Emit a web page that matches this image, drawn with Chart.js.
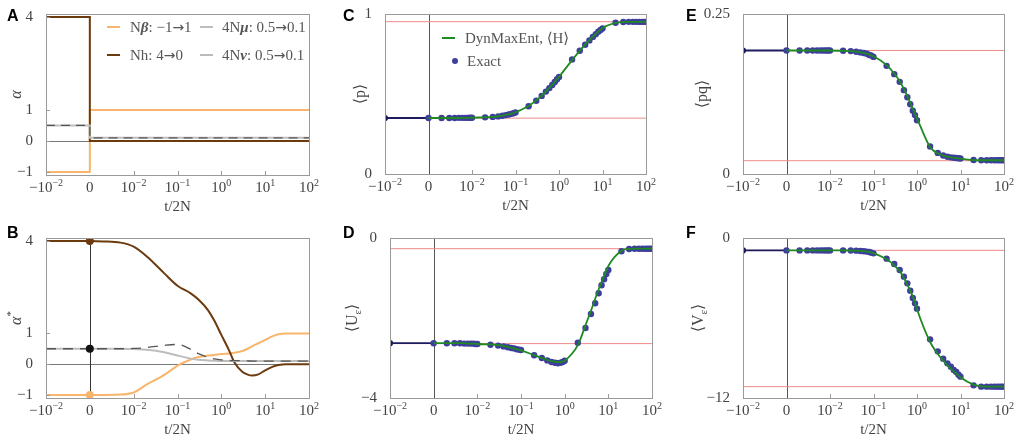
<!DOCTYPE html>
<html>
<head>
<meta charset="utf-8">
<script src="https://cdn.jsdelivr.net/npm/chart.js@4.4.0/dist/chart.umd.min.js"></script>
<style>
  body { margin: 0; background: #fff; width: 1016px; height: 444px; overflow: hidden; position: relative; }
  canvas { position: absolute; }
</style>
</head>
<body>
<canvas id="A" width="330" height="215" style="left:0;top:0"></canvas>
<canvas id="B" width="330" height="229" style="left:0;top:215px"></canvas>
<canvas id="C" width="340" height="215" style="left:330px;top:0"></canvas>
<canvas id="D" width="340" height="229" style="left:330px;top:215px"></canvas>
<canvas id="E" width="346" height="215" style="left:670px;top:0"></canvas>
<canvas id="F" width="346" height="229" style="left:670px;top:215px"></canvas>
<script>
// ---- datos ----
// tiempos t/2N (antes del cambio: -10^-2..0)
var tPre = [-0.01, 0];
var tStep = [-0.01, 0, 0, 100];
var tRef = [-0.01, 100];
var tGrid = [0.001, 0.002, 0.003, 0.004, 0.005, 0.006, 0.007, 0.008, 0.009,
  0.01, 0.02, 0.03, 0.04, 0.05, 0.06, 0.07, 0.08, 0.09,
  0.1, 0.2, 0.3, 0.4, 0.5, 0.6, 0.7, 0.8, 0.9,
  1, 2, 3, 4, 5, 6, 7, 8, 9,
  10, 20, 30, 40, 50, 60, 70, 80, 90,
  100];
var tB = [-0.01, 0, 0.002, 0.005, 0.01, 0.02, 0.05, 0.1, 0.2, 0.3, 0.5, 0.7, 1, 1.5, 2, 3, 4, 5, 7, 10, 15, 20, 30, 50, 100];

// panel A: parametros (escalon)
var aBeta = [-1, -1, 1, 1];
var aH = [4, 4, 0, 0];
var aMu = [0.5, 0.5, 0.1, 0.1];
var aNu = [0.5, 0.5, 0.1, 0.1];

// panel B: alpha*
var bBeta = [-1, -1, -1, -0.99, -0.92, -0.66, -0.35, -0.05, 0.15, 0.23, 0.28, 0.30, 0.33, 0.35, 0.37, 0.43, 0.50, 0.58, 0.68, 0.79, 0.91, 0.97, 1, 1, 1];
var bH = [4, 4, 3.99, 3.95, 3.82, 3.5, 2.95, 2.55, 2.3, 2.1, 1.75, 1.4, 0.95, 0.45, 0.05, -0.25, -0.34, -0.37, -0.33, -0.2, -0.08, -0.03, 0, 0, 0];
var bMu = [0.5, 0.5, 0.5, 0.5, 0.49, 0.47, 0.39, 0.28, 0.18, 0.14, 0.12, 0.11, 0.105, 0.1, 0.1, 0.1, 0.1, 0.1, 0.1, 0.1, 0.1, 0.1, 0.1, 0.1, 0.1];
var bNu = [0.5, 0.5, 0.5, 0.5, 0.51, 0.54, 0.61, 0.64, 0.48, 0.34, 0.22, 0.17, 0.14, 0.12, 0.115, 0.11, 0.105, 0.1, 0.1, 0.1, 0.1, 0.1, 0.1, 0.1, 0.1];
var bStart = [4, 0.5, -1];

// panel C: <p>
var cExact = [0.350, 0.350, 0.350, 0.350, 0.351, 0.351, 0.351, 0.351, 0.352,
  0.352, 0.354, 0.357, 0.360, 0.364, 0.368, 0.372, 0.376, 0.380,
  0.384, 0.423, 0.458, 0.488, 0.515, 0.537, 0.557, 0.575, 0.592,
  0.607, 0.716, 0.770, 0.808, 0.835, 0.857, 0.874, 0.889, 0.900,
  0.910, 0.945, 0.950, 0.951, 0.951, 0.951, 0.951, 0.951, 0.951,
  0.951];
var cDyn = [0.350, 0.350, 0.350, 0.350, 0.350, 0.351, 0.351, 0.351, 0.351,
  0.352, 0.354, 0.357, 0.361, 0.365, 0.369, 0.373, 0.377, 0.381,
  0.386, 0.425, 0.460, 0.490, 0.516, 0.538, 0.558, 0.576, 0.592,
  0.607, 0.712, 0.770, 0.810, 0.836, 0.858, 0.875, 0.890, 0.901,
  0.912, 0.944, 0.950, 0.951, 0.951, 0.951, 0.951, 0.951, 0.951,
  0.951];
var cPre = [0.350, 0.350];
var cRef = [0.349, 0.952];

// panel D: <U_eps>
var dExact = [-2.63, -2.63, -2.63, -2.63, -2.64, -2.64, -2.64, -2.64, -2.65,
  -2.65, -2.67, -2.69, -2.71, -2.73, -2.75, -2.76, -2.78, -2.79,
  -2.80, -2.93, -3.00, -3.06, -3.10, -3.12, -3.13, -3.12, -3.10,
  -3.07, -2.62, -2.25, -1.90, -1.63, -1.38, -1.18, -1.03, -0.90,
  -0.80, -0.33, -0.275, -0.27, -0.27, -0.27, -0.27, -0.27, -0.27,
  -0.27];
var dDyn = [-2.63, -2.63, -2.63, -2.63, -2.63, -2.64, -2.64, -2.64, -2.64,
  -2.65, -2.66, -2.68, -2.70, -2.72, -2.74, -2.76, -2.78, -2.80,
  -2.81, -2.93, -3.00, -3.05, -3.08, -3.09, -3.10, -3.10, -3.09,
  -3.07, -2.68, -2.18, -1.82, -1.52, -1.28, -1.10, -0.95, -0.82,
  -0.70, -0.32, -0.27, -0.265, -0.265, -0.265, -0.265, -0.265, -0.265,
  -0.265];
var dPre = [-2.63, -2.63];
var dRef = [-0.267, -2.64];

// panel E: <pq>
var eExact = [0.193, 0.193, 0.193, 0.193, 0.193, 0.193, 0.193, 0.193, 0.193,
  0.193, 0.1925, 0.192, 0.191, 0.190, 0.189, 0.188, 0.186, 0.185,
  0.183, 0.169, 0.156, 0.144, 0.131, 0.120, 0.109, 0.099, 0.092,
  0.084, 0.043, 0.033, 0.029, 0.027, 0.026, 0.0255, 0.025, 0.0245,
  0.0242, 0.0218, 0.0215, 0.0215, 0.0215, 0.0215, 0.0215, 0.0215, 0.0215,
  0.0215];
var eDyn = [0.193, 0.193, 0.193, 0.193, 0.193, 0.193, 0.193, 0.193, 0.193,
  0.193, 0.1925, 0.192, 0.191, 0.190, 0.189, 0.188, 0.187, 0.185,
  0.184, 0.170, 0.157, 0.145, 0.133, 0.122, 0.111, 0.102, 0.094,
  0.087, 0.042, 0.032, 0.029, 0.027, 0.026, 0.0255, 0.025, 0.0245,
  0.024, 0.0218, 0.0215, 0.0215, 0.0215, 0.0215, 0.0215, 0.0215, 0.0215,
  0.0215];
var ePre = [0.193, 0.193];
var eRef = [0.193, 0.0208];

// panel F: <V_eps>
var fExact = [-0.93, -0.93, -0.93, -0.93, -0.93, -0.93, -0.93, -0.93, -0.93,
  -0.93, -0.93, -0.94, -0.95, -0.97, -0.99, -1.02, -1.05, -1.10,
  -1.15, -1.55, -1.95, -2.40, -2.90, -3.40, -3.95, -4.50, -4.90,
  -5.30, -7.60, -8.50, -9.05, -9.40, -9.65, -9.90, -10.05, -10.25,
  -10.40, -11.05, -11.15, -11.15, -11.15, -11.15, -11.15, -11.15, -11.15,
  -11.15];
var fDyn = [-0.93, -0.93, -0.93, -0.93, -0.93, -0.93, -0.93, -0.93, -0.93,
  -0.93, -0.93, -0.94, -0.95, -0.97, -0.99, -1.02, -1.05, -1.09,
  -1.13, -1.60, -2.05, -2.50, -3.00, -3.50, -3.95, -4.40, -4.85,
  -5.35, -7.80, -8.70, -9.20, -9.55, -9.80, -10.00, -10.15, -10.30,
  -10.45, -11.00, -11.12, -11.15, -11.15, -11.15, -11.15, -11.15, -11.15,
  -11.15];
var fPre = [-0.93, -0.93];
var fRef = [-0.925, -11.15];

// etiquetas del eje x (base, exponente) en las posiciones -1..5
var xTickLabels = [['\u221210', '\u22122'], ['0', ''], ['10', '\u22122'], ['10', '\u22121'], ['10', '0'], ['10', '1'], ['10', '2']];
var xTitle = 't/2N';

// ---- estilo ----
var SERIF = "'Liberation Serif', 'DejaVu Serif', serif";
var SANS = "'Liberation Sans', Arial, sans-serif";
var ORANGE = '#f7b66c', BROWN = '#6d3a0e', LGRAY = '#bdbdbd', DGRAY = '#555555';
var GREEN = '#1f8a22', DOT = '#3e3e9c', NAVY = '#1b1b5e', RED = '#f08a8a';
var TXT = '#444444';

// eje x: antes del cambio lineal (-1..0), despues log10 desde 10^-3 (marcado "0")
function toU(t) {
  if (t <= 0) return t * 100;
  return Math.log10(t) + 3;
}
function pts(ts, vs) {
  var out = [];
  for (var i = 0; i < ts.length; i++) out.push({x: toU(ts[i]), y: vs[i]});
  return out;
}

function fontFor(kind, size) {
  if (kind === 'sup' || kind === 'sub') return Math.round(size * 0.68) + 'px ' + SERIF;
  if (kind === 'bi') return 'italic bold ' + size + 'px ' + SERIF;
  if (kind === 'i') return 'italic ' + size + 'px ' + SERIF;
  if (kind === 'arr') return Math.round(size * 0.95) + "px 'DejaVu Sans', sans-serif";
  return size + 'px ' + SERIF;
}
// dibuja texto con partes [texto, tipo]
function drawParts(ctx, parts, x, y, size, align) {
  var w = 0;
  parts.forEach(function(p) { ctx.font = fontFor(p[1], size); w += ctx.measureText(p[0]).width; });
  var cx = align === 'center' ? x - w / 2 : (align === 'right' ? x - w : x);
  ctx.textAlign = 'left';
  ctx.textBaseline = 'alphabetic';
  parts.forEach(function(p) {
    ctx.font = fontFor(p[1], size);
    var dy = p[1] === 'sup' ? -size * 0.42 : (p[1] === 'sub' ? size * 0.28 : 0);
    ctx.fillText(p[0], cx, y + dy);
    cx += ctx.measureText(p[0]).width;
  });
}

var decor = {
  id: 'decor',
  beforeDatasetsDraw: function(chart, args, o) {
    var ctx = chart.ctx, a = chart.chartArea, xs = chart.scales.x, ys = chart.scales.y;
    ctx.save();
    ctx.lineWidth = 1;
    if (o.zeroH) {
      var y0 = Math.round(ys.getPixelForValue(0)) + 0.5;
      ctx.strokeStyle = '#777';
      ctx.beginPath(); ctx.moveTo(a.left, y0); ctx.lineTo(a.right, y0); ctx.stroke();
    }
    if (o.zeroV) {
      var x0 = Math.round(xs.getPixelForValue(0)) + 0.5;
      ctx.strokeStyle = o.zeroV;
      ctx.beginPath(); ctx.moveTo(x0, a.top); ctx.lineTo(x0, a.bottom); ctx.stroke();
    }
    ctx.restore();
  },
  afterDraw: function(chart, args, o) {
    var ctx = chart.ctx, a = chart.chartArea, xs = chart.scales.x, ys = chart.scales.y;
    ctx.save();
    // marco
    ctx.strokeStyle = '#9a9a9a';
    ctx.lineWidth = 1;
    ctx.strokeRect(Math.round(a.left) + 0.5, Math.round(a.top) + 0.5, Math.round(a.right - a.left), Math.round(a.bottom - a.top));
    // marcas hacia dentro
    ctx.beginPath();
    for (var u = 1; u <= 4; u++) {
      var px = Math.round(xs.getPixelForValue(u)) + 0.5;
      ctx.moveTo(px, a.bottom); ctx.lineTo(px, a.bottom - 4);
    }
    ys.ticks.forEach(function(tk) {
      var py = Math.round(ys.getPixelForValue(tk.value)) + 0.5;
      ctx.moveTo(a.left, py); ctx.lineTo(a.left + 4, py);
    });
    ctx.stroke();
    // etiquetas eje x
    ctx.fillStyle = TXT;
    for (var i = 0; i < xTickLabels.length; i++) {
      var lab = xTickLabels[i];
      var parts = [[lab[0], '']];
      if (lab[1]) parts.push([lab[1], 'sup']);
      drawParts(ctx, parts, xs.getPixelForValue(i - 1), a.bottom + 17, 15, 'center');
    }
    drawParts(ctx, [[xTitle, '']], (a.left + a.right) / 2, a.bottom + 36, 15, 'center');
    // titulo eje y
    ctx.save();
    ctx.translate(o.yTitleX, (a.top + a.bottom) / 2);
    ctx.rotate(-Math.PI / 2);
    drawParts(ctx, o.yTitle, 0, 5, 16, 'center');
    ctx.restore();
    // letra del panel
    ctx.fillStyle = '#000';
    ctx.font = 'bold 16px ' + SANS;
    ctx.textAlign = 'left';
    ctx.textBaseline = 'alphabetic';
    ctx.fillText(o.letter, o.letterX, o.letterY);
    // leyenda
    (o.legend || []).forEach(function(it) {
      ctx.strokeStyle = it.color;
      ctx.fillStyle = it.color;
      if (it.type === 'dot') {
        ctx.beginPath(); ctx.arc(it.x + 6, it.y, 3, 0, Math.PI * 2); ctx.fill();
      } else {
        ctx.lineWidth = it.width;
        ctx.beginPath(); ctx.moveTo(it.x, it.y); ctx.lineTo(it.x + 13, it.y); ctx.stroke();
      }
      ctx.fillStyle = '#555';
      drawParts(ctx, it.parts, it.tx, it.y + 5, 15, 'left');
    });
    ctx.restore();
  }
};

function makeChart(id, cfg) {
  var el = document.getElementById(id);
  var w = el.width, h = el.height;
  return new Chart(el.getContext('2d'), {
    type: 'line',
    data: { datasets: cfg.datasets },
    options: {
      responsive: false,
      animation: false,
      layout: { padding: { left: 0, right: w - cfg.area[1], top: cfg.area[2], bottom: 0 } },
      plugins: { legend: { display: false }, tooltip: { enabled: false }, decor: cfg.decor },
      elements: { point: { radius: 0 } },
      scales: {
        x: {
          type: 'linear', min: -1, max: 5,
          ticks: { display: false }, grid: { display: false }, border: { display: false },
          afterFit: function(s) { s.height = h - cfg.area[3]; }
        },
        y: {
          type: 'linear', min: cfg.yMin, max: cfg.yMax,
          grid: { display: false }, border: { display: false },
          afterFit: function(s) { s.width = cfg.area[0]; },
          afterBuildTicks: function(s) { s.ticks = cfg.yTicks.map(function(v) { return { value: v }; }); },
          ticks: {
            font: { family: SERIF, size: 15 }, color: TXT, padding: 5, autoSkip: false,
            callback: function(v) { return String(v).replace('-', '\u2212'); }
          }
        }
      }
    },
    plugins: [decor]
  });
}

function line(data, color, width, order, dash) {
  return { data: data, borderColor: color, backgroundColor: color, borderWidth: width, borderDash: dash || [],
    pointRadius: 0, tension: 0, order: order, fill: false };
}
function smooth(data, color, width, order, dash) {
  var d = line(data, color, width, order, dash);
  d.cubicInterpolationMode = 'monotone';
  return d;
}

// panel A
makeChart('A', {
  area: [46, 309, 13, 175], yMin: -1.1, yMax: 4.1, yTicks: [-1, 0, 1, 4],
  datasets: [
    line(pts(tStep, aNu), DGRAY, 1.3, 1, [9, 6]),
    line(pts(tStep, aMu), LGRAY, 2, 2),
    line(pts(tStep, aH), BROWN, 2, 3),
    line(pts(tStep, aBeta), ORANGE, 2, 4)
  ],
  decor: {
    zeroH: true, yTitleX: 16, yTitle: [['\u03b1', 'i']], letter: 'A', letterX: 7, letterY: 21,
    legend: [
      { color: ORANGE, width: 2, x: 107, y: 27, tx: 130, parts: [['N', ''], ['\u03b2', 'bi'], [': \u22121', ''], ['\u2192', 'arr'], ['1', '']] },
      { color: LGRAY, width: 2, x: 200, y: 27, tx: 222, parts: [['4N', ''], ['\u03bc', 'bi'], [': 0.5', ''], ['\u2192', 'arr'], ['0.1', '']] },
      { color: BROWN, width: 2, x: 107, y: 55, tx: 130, parts: [['Nh: 4', ''], ['\u2192', 'arr'], ['0', '']] },
      { color: '#777', width: 1, x: 200, y: 55, tx: 222, parts: [['4N', ''], ['\u03bd', 'bi'], [': 0.5', ''], ['\u2192', 'arr'], ['0.1', '']] }
    ]
  }
});

// panel B
var startSet = line(pts([0, 0, 0], bStart), '#000', 0, 0);
startSet.showLine = false;
startSet.pointRadius = 4;
startSet.pointBackgroundColor = [BROWN, '#111', ORANGE];
startSet.pointBorderWidth = 0;
makeChart('B', {
  area: [46, 309, 23, 183], yMin: -1.1, yMax: 4.1, yTicks: [-1, 0, 1, 4],
  datasets: [
    startSet,
    smooth(pts(tB, bNu), DGRAY, 1.3, 1, [10, 7]),
    smooth(pts(tB, bMu), LGRAY, 2, 2),
    smooth(pts(tB, bH), BROWN, 2, 3),
    smooth(pts(tB, bBeta), ORANGE, 2, 4)
  ],
  decor: { zeroH: true, zeroV: '#333', yTitleX: 16, yTitle: [['\u03b1', 'i'], ['*', 'sup']], letter: 'B', letterX: 7, letterY: 23 }
});

// paneles C-F: exacto vs DynMaxEnt
function exactSets(pre, exact, dyn, refs) {
  var dots = line(pts(tGrid, exact), DOT, 0, 2);
  dots.showLine = false;
  dots.pointRadius = 3.2;
  dots.pointBorderWidth = 0;
  var preLine = line(pts(tPre, pre), NAVY, 1.8, 3);
  preLine.pointRadius = [2.2, 0];
  var sets = [smooth(pts(tGrid, dyn), GREEN, 1.8, 1), dots, preLine];
  refs.forEach(function(v) { sets.push(line(pts(tRef, [v, v]), RED, 1, 5)); });
  return sets;
}

makeChart('C', {
  area: [55, 316, 13, 174], yMin: 0, yMax: 1, yTicks: [0, 1],
  datasets: exactSets(cPre, cExact, cDyn, cRef),
  decor: {
    zeroV: '#555', yTitleX: 30, yTitle: [['\u27e8p\u27e9', '']], letter: 'C', letterX: 13, letterY: 21,
    legend: [
      { color: GREEN, width: 2, x: 112, y: 38, tx: 135, parts: [['DynMaxEnt, \u27e8H\u27e9', '']] },
      { type: 'dot', color: DOT, x: 119, y: 61, tx: 137, parts: [['Exact', '']] }
    ]
  }
});

makeChart('D', {
  area: [60, 322, 23, 183], yMin: -4, yMax: 0, yTicks: [-4, 0],
  datasets: exactSets(dPre, dExact, dDyn, dRef),
  decor: { zeroV: '#555', yTitleX: 22, yTitle: [['\u27e8U', ''], ['\u03b5', 'sub'], ['\u27e9', '']], letter: 'D', letterX: 13, letterY: 23 }
});

makeChart('E', {
  area: [73, 334, 14, 174], yMin: 0, yMax: 0.25, yTicks: [0, 0.25],
  datasets: exactSets(ePre, eExact, eDyn, eRef),
  decor: { zeroV: '#555', yTitleX: 32, yTitle: [['\u27e8pq\u27e9', '']], letter: 'E', letterX: 16, letterY: 21 }
});

makeChart('F', {
  area: [73, 334, 23, 183], yMin: -12, yMax: 0, yTicks: [-12, 0],
  datasets: exactSets(fPre, fExact, fDyn, fRef),
  decor: { zeroV: '#555', yTitleX: 28, yTitle: [['\u27e8V', ''], ['\u03b5', 'sub'], ['\u27e9', '']], letter: 'F', letterX: 16, letterY: 23 }
});
</script>
</body>
</html>
